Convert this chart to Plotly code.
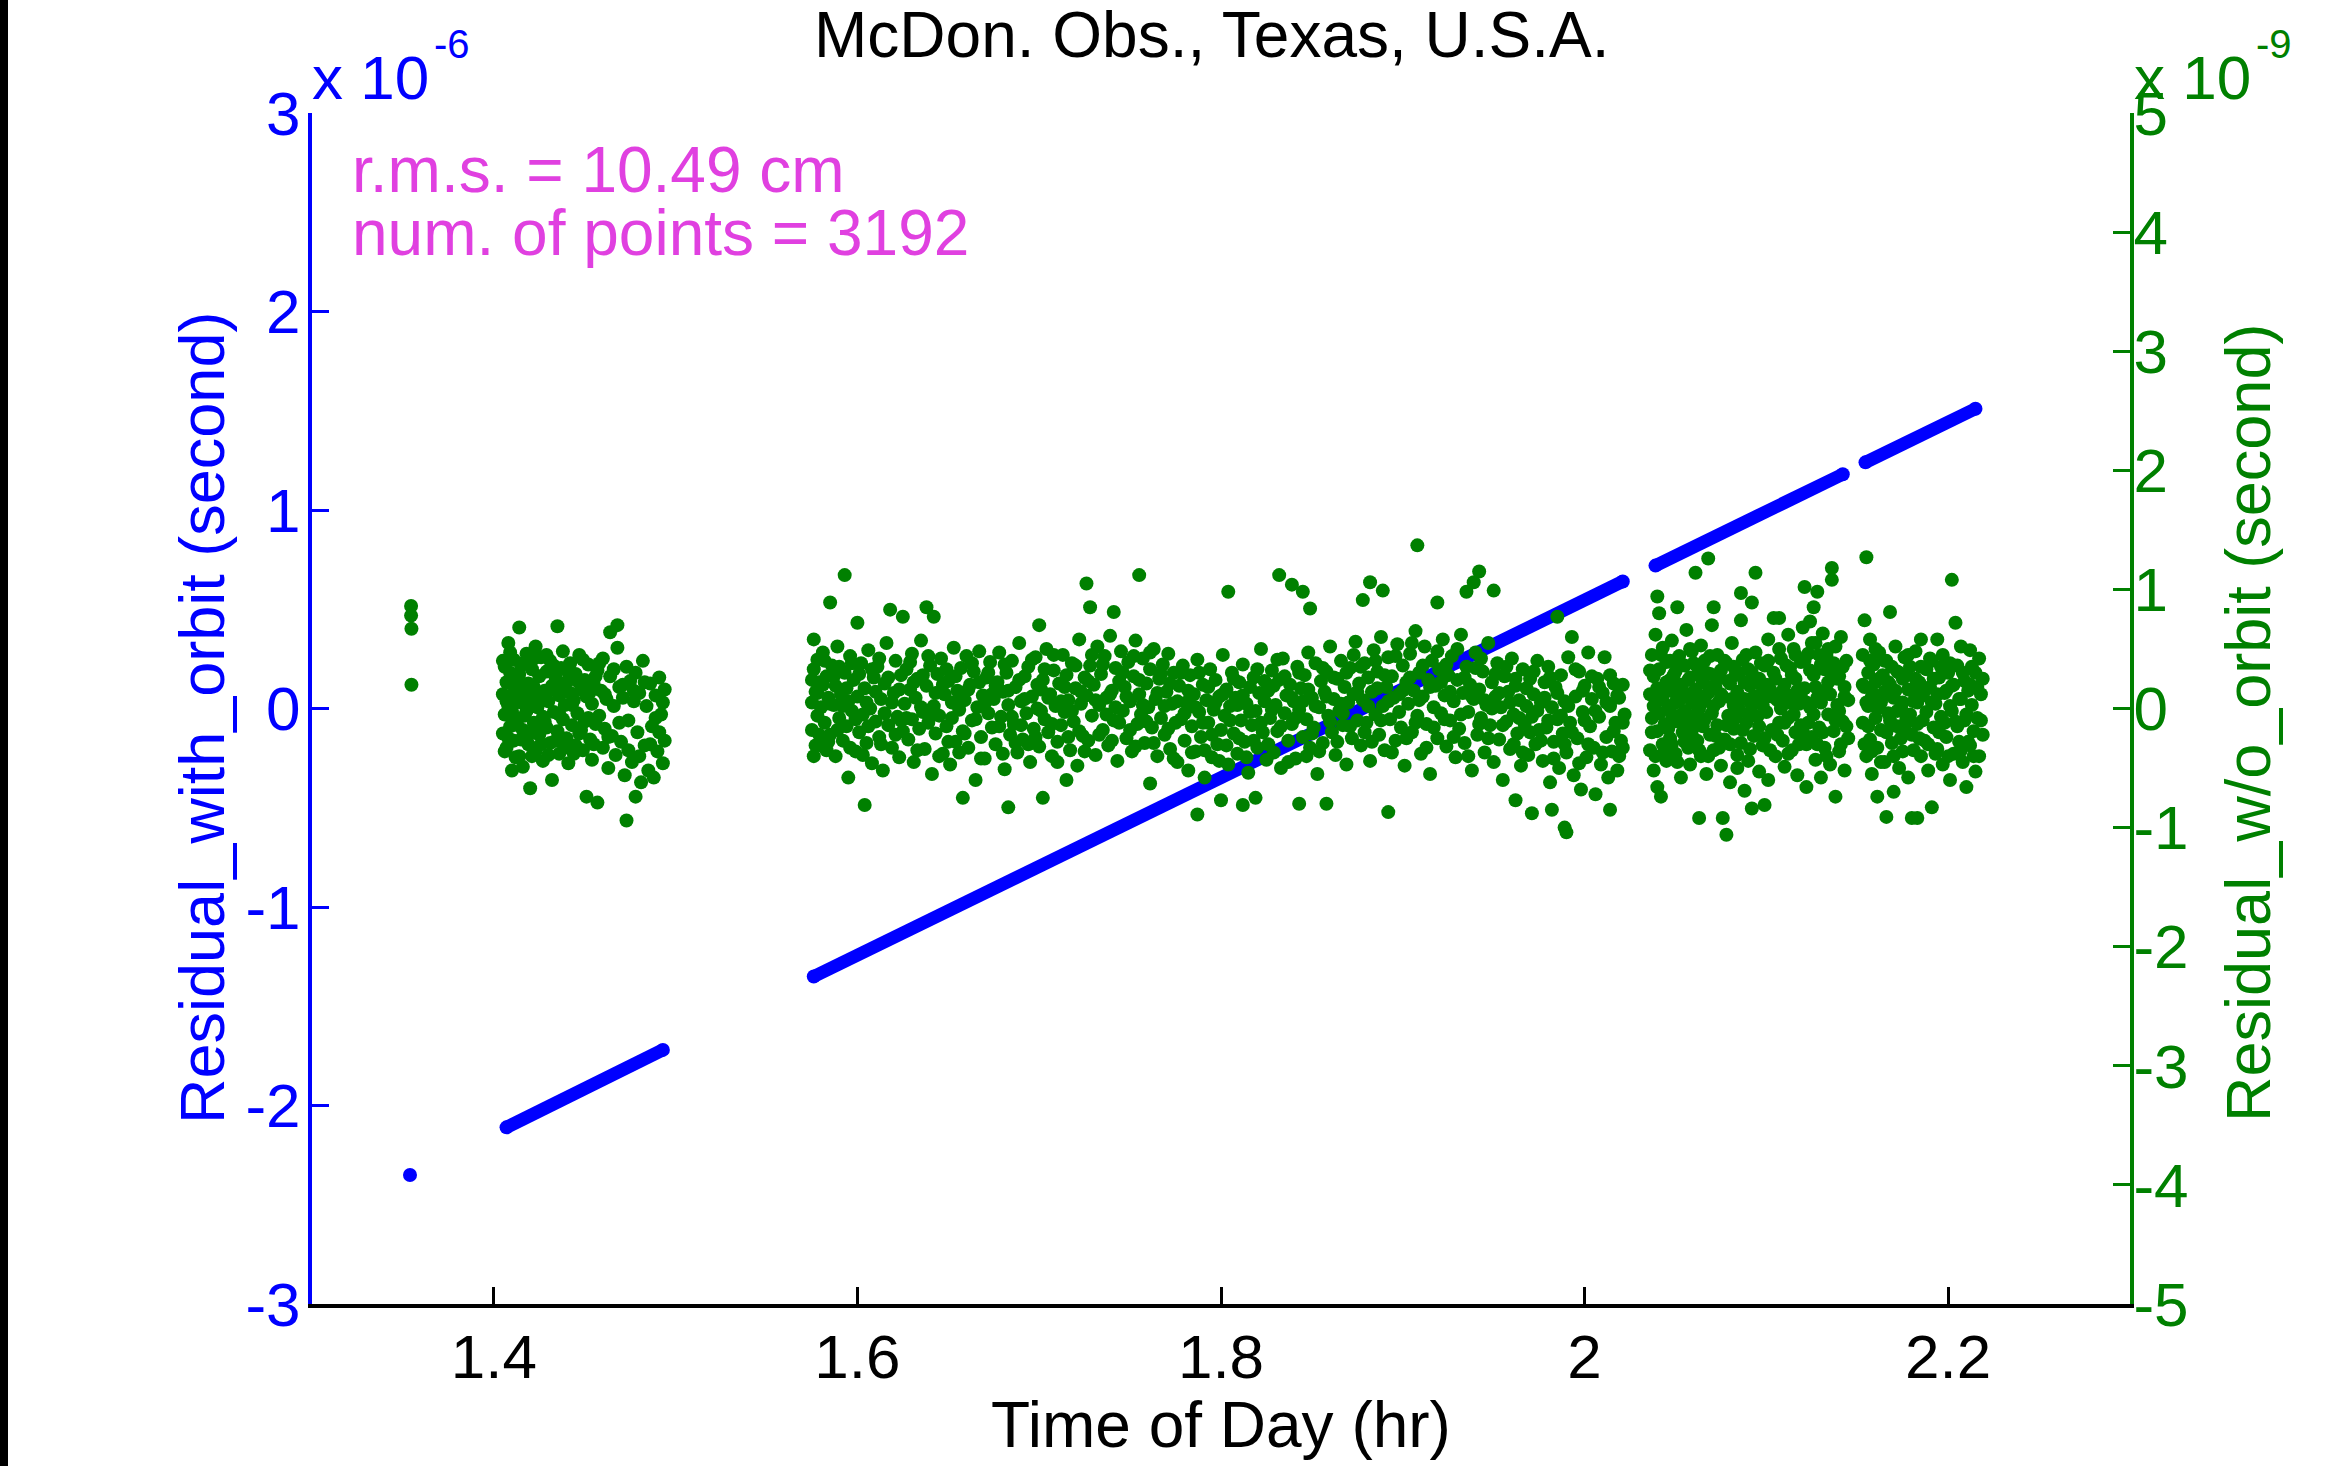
import plotly.graph_objects as go

# ---------------- data ----------------
title_text = "McDon. Obs., Texas, U.S.A."
x_label = "Time of Day (hr)"
y_left_label = "Residual_with_orbit (second)"
y_right_label = "Residual_w/o_orbit (second)"
rms_text = "r.m.s. = 10.49 cm"
npts_text = "num. of points = 3192"

x_tickvals = [1.4, 1.6, 1.8, 2.0, 2.2]
x_ticktext = ["1.4", "1.6", "1.8", "2", "2.2"]
yl_tickvals = [-3, -2, -1, 0, 1, 2, 3]
yl_ticktext = ["-3", "-2", "-1", "0", "1", "2", "3"]
yr_tickvals = [-5, -4, -3, -2, -1, 0, 1, 2, 3, 4, 5]
yr_ticktext = ["-5", "-4", "-3", "-2", "-1", "0", "1", "2", "3", "4", "5"]

# residual with orbit (units of 1e-6 s): start/end of each observing pass
blue_t = [1.3539, None, 1.4070, 1.4930, None, 1.5760, 2.0210, None,
          2.0390, 2.1420, None, 2.1545, 2.2150]
blue_res = [-2.35, None, -2.11, -1.72, None, -1.35, 0.64, None,
            0.72, 1.18, None, 1.24, 1.51]

# residual without orbit (units of 1e-9 s), per pass
green_pass_a = [(1.3545, 0.86), (1.3545, 0.78), (1.3547, 0.67), (1.3547, 0.20)]

green_pass_b = [
(1.405,0.12),(1.405,-0.21),(1.406,0.35),(1.406,-0.05),(1.407,0.22),(1.407,-0.33),(1.408,0.55),(1.408,0.02),
(1.409,-0.15),(1.409,0.30),(1.410,-0.52),(1.410,0.08),(1.411,0.41),(1.411,-0.27),(1.412,0.17),(1.412,-0.08),
(1.413,0.25),(1.414,0.68),(1.414,-0.40),(1.415,0.05),(1.415,0.36),(1.416,-0.49),(1.416,-0.18),(1.417,0.14),
(1.418,0.46),(1.418,-0.02),(1.419,-0.30),(1.419,0.21),(1.420,-0.67),(1.420,0.09),(1.421,0.33),(1.422,-0.12),
(1.422,0.18),(1.423,-0.36),(1.423,0.52),(1.424,0.01),(1.425,-0.22),(1.425,0.27),(1.426,0.43),(1.427,-0.07),
(1.427,-0.44),(1.428,0.15),(1.429,0.31),(1.429,-0.16),(1.430,0.06),(1.431,-0.29),(1.431,0.40),(1.432,-0.60),
(1.432,0.19),(1.433,-0.03),(1.434,0.26),(1.435,0.69),(1.435,-0.19),(1.436,0.11),(1.436,-0.38),(1.437,0.34),
(1.438,-0.09),(1.438,0.48),(1.439,0.03),(1.440,-0.25),(1.440,0.22),(1.441,-0.46),(1.442,0.13),(1.442,0.38),
(1.443,-0.14),(1.444,0.07),(1.445,-0.31),(1.445,0.29),(1.446,-0.04),(1.447,0.45),(1.447,-0.21),(1.448,0.16),
(1.449,-0.35),(1.450,0.24),(1.450,-0.11),(1.451,-0.74),(1.451,0.10),(1.452,0.37),(1.453,-0.26),(1.454,0.04),
(1.454,-0.43),(1.455,0.20),(1.456,-0.13),(1.457,-0.79),(1.457,0.32),(1.458,-0.06),(1.459,0.15),(1.460,-0.33),
(1.460,0.42),(1.461,-0.17),(1.462,0.08),(1.463,-0.50),(1.464,0.64),(1.464,0.27),(1.465,-0.23),(1.466,0.02),
(1.467,-0.39),(1.468,0.70),(1.468,0.51),(1.469,0.18),(1.470,-0.28),(1.471,0.09),(1.472,-0.56),(1.473,-0.94),
(1.473,0.35),(1.474,-0.10),(1.475,0.23),(1.476,-0.45),(1.477,0.06),(1.478,-0.74),(1.478,0.30),(1.479,-0.20),
(1.480,0.13),(1.481,-0.62),(1.482,0.40),(1.483,-0.31),(1.484,0.02),(1.485,-0.52),(1.486,0.21),(1.487,-0.15),
(1.488,-0.58),(1.489,0.11),(1.490,-0.36),(1.491,0.26),(1.492,-0.05),(1.493,-0.46),(1.494,0.16),(1.494,-0.27),
(1.405,0.40),(1.406,-0.36),(1.407,0.06),(1.408,-0.25),(1.409,0.47),(1.410,-0.02),(1.411,0.13),(1.412,-0.41),
(1.413,-0.14),(1.414,0.29),(1.415,-0.26),(1.416,0.38),(1.417,-0.06),(1.418,0.20),(1.419,0.04),(1.420,-0.21),
(1.421,-0.40),(1.422,0.42),(1.424,-0.17),(1.425,0.10),(1.426,-0.30),(1.428,-0.11),(1.429,0.45),(1.430,-0.39),
(1.431,0.16),(1.433,0.36),(1.434,-0.27),(1.436,-0.05),(1.437,0.19),(1.439,-0.33),(1.441,0.30),(1.443,0.03),
(1.444,-0.38),(1.446,0.23),(1.448,-0.18),(1.449,0.41),(1.452,-0.08),(1.453,0.14),(1.455,-0.30),(1.456,0.27),
(1.458,0.38),(1.461,0.12),(1.463,-0.24),(1.466,0.33),(1.469,-0.12),(1.471,0.20),(1.474,-0.35),(1.477,0.15),
(1.480,-0.40),(1.483,0.22),(1.486,-0.30),(1.489,-0.08),(1.491,-0.20),(1.493,0.05)]

green_pass_c = [
(1.575,0.05),(1.575,-0.18),(1.576,0.33),(1.576,0.58),(1.577,-0.31),(1.577,0.14),(1.578,-0.06),(1.578,0.41),
(1.579,0.22),(1.580,-0.31),(1.580,0.01),(1.581,0.47),(1.582,-0.12),(1.583,-0.35),(1.583,0.27),(1.584,0.09),
(1.585,0.89),(1.585,-0.22),(1.586,0.36),(1.587,0.03),(1.588,-0.40),(1.588,0.19),(1.589,0.52),(1.590,-0.08),
(1.591,0.12),(1.592,-0.27),(1.593,1.12),(1.593,0.30),(1.594,-0.15),(1.595,-0.58),(1.595,0.06),(1.596,0.44),
(1.597,-0.02),(1.598,0.24),(1.599,-0.36),(1.600,0.72),(1.600,0.10),(1.601,-0.20),(1.602,0.38),(1.603,-0.05),
(1.604,-0.81),(1.604,0.17),(1.605,-0.29),(1.606,0.49),(1.607,0.00),(1.608,-0.46),(1.609,0.26),(1.610,-0.11),
(1.611,0.35),(1.612,-0.24),(1.613,0.08),(1.614,-0.52),(1.615,0.21),(1.616,0.55),(1.617,-0.14),(1.618,0.83),
(1.619,-0.33),(1.620,0.13),(1.621,0.40),(1.622,-0.07),(1.623,-0.41),(1.624,0.28),(1.625,0.77),(1.625,-0.19),
(1.626,0.04),(1.627,0.33),(1.628,-0.26),(1.629,0.16),(1.630,-0.09),(1.630,0.46),(1.631,-0.45),(1.632,0.09),
(1.633,0.25),(1.634,-0.17),(1.635,0.57),(1.636,-0.03),(1.637,-0.34),(1.638,0.85),(1.638,0.19),(1.639,-0.12),
(1.640,0.36),(1.641,-0.55),(1.642,0.77),(1.642,0.02),(1.643,-0.21),(1.644,0.29),(1.645,-0.06),(1.646,0.42),
(1.647,-0.38),(1.648,0.12),(1.649,-0.15),(1.650,0.23),(1.651,-0.47),(1.652,0.05),(1.653,0.51),(1.654,-0.28),
(1.655,0.15),(1.656,-0.01),(1.657,0.34),(1.658,-0.75),(1.658,-0.19),(1.659,0.07),(1.660,0.44),(1.661,-0.33),
(1.662,0.20),(1.663,-0.10),(1.664,0.31),(1.665,-0.60),(1.666,0.01),(1.667,0.48),(1.668,-0.24),(1.669,0.11),
(1.670,-0.42),(1.671,0.26),(1.672,-0.04),(1.673,0.39),(1.674,-0.16),(1.675,0.08),
(1.676,-0.30),(1.677,0.22),(1.678,0.47),(1.679,-0.07),(1.680,0.14),(1.681,-0.51),(1.682,0.30),(1.683,-0.83),
(1.683,0.03),(1.684,-0.22),(1.685,0.40),(1.686,-0.13),(1.687,0.18),(1.688,-0.37),(1.689,0.55),(1.690,0.06),
(1.691,-0.26),(1.692,0.27),(1.693,-0.04),(1.694,0.35),(1.695,-0.45),(1.696,0.10),(1.697,-0.17),(1.698,0.43),
(1.699,0.00),(1.700,0.70),(1.700,-0.32),(1.701,0.16),(1.702,-0.75),(1.702,0.24),(1.703,-0.09),(1.704,0.50),
(1.705,-0.20),(1.706,0.12),(1.707,-0.40),(1.708,0.32),(1.709,0.02),(1.710,-0.28),(1.711,0.21),(1.712,-0.14),
(1.713,0.45),(1.714,-0.03),(1.715,-0.60),(1.715,0.28),(1.716,0.07),(1.717,-0.35),(1.718,0.38),(1.719,-0.11),
(1.720,0.17),(1.721,-0.48),(1.722,0.58),(1.723,0.04),(1.724,-0.23),(1.725,0.26),
(1.726,1.05),(1.726,0.11),(1.727,-0.27),(1.728,0.85),(1.728,0.36),(1.729,-0.06),(1.730,0.20),(1.731,-0.39),
(1.732,0.52),(1.733,0.03),(1.734,0.29),(1.735,-0.18),(1.736,0.44),(1.737,0.09),(1.738,-0.31),(1.739,0.61),
(1.740,0.15),(1.741,0.81),(1.741,-0.10),(1.742,0.34),(1.743,-0.44),(1.744,0.23),(1.745,0.48),(1.746,-0.02),
(1.747,0.18),(1.748,-0.25),(1.749,0.39),(1.750,0.06),(1.751,-0.36),(1.752,0.27),(1.753,0.57),(1.754,-0.13),
(1.755,1.12),(1.755,0.12),(1.756,-0.05),(1.757,0.42),(1.758,-0.29),(1.759,0.21),(1.760,0.01),(1.761,-0.63),
(1.761,0.33),(1.762,-0.16),(1.763,0.50),(1.764,0.08),(1.765,-0.40),(1.766,0.25),(1.767,-0.08),(1.768,0.37),
(1.769,-0.22),(1.770,0.14),(1.771,0.46),(1.772,-0.34),(1.773,0.04),(1.774,0.30),(1.775,-0.12),
(1.776,-0.45),(1.777,0.19),(1.778,-0.09),(1.779,0.36),(1.780,-0.27),(1.781,0.05),(1.782,-0.52),(1.783,0.28),
(1.784,-0.15),(1.785,0.12),(1.786,-0.36),(1.787,-0.89),(1.787,0.41),(1.788,-0.03),(1.789,-0.24),(1.790,0.20),
(1.791,-0.58),(1.792,0.07),(1.793,-0.12),(1.794,0.33),(1.795,-0.41),(1.796,-0.01),(1.797,0.24),(1.798,-0.30),
(1.799,0.10),(1.800,-0.77),(1.800,-0.18),(1.801,0.45),(1.802,-0.06),(1.803,0.16),(1.804,0.98),(1.804,-0.47),
(1.805,0.02),(1.806,0.30),(1.807,-0.21),(1.808,0.09),(1.809,-0.38),(1.810,0.22),(1.811,-0.10),(1.812,-0.81),
(1.812,0.37),(1.813,-0.28),(1.814,0.04),(1.815,-0.54),(1.816,0.18),(1.817,-0.14),(1.818,0.26),(1.819,-0.75),
(1.819,-0.02),(1.820,-0.33),(1.821,0.13),(1.822,0.50),(1.823,-0.20),(1.824,0.06),(1.825,-0.43),
(1.826,0.15),(1.827,-0.08),(1.828,0.32),(1.829,-0.37),(1.830,0.03),(1.831,-0.19),(1.832,1.12),(1.832,0.24),
(1.833,-0.50),(1.834,0.42),(1.835,-0.04),(1.836,0.11),(1.837,-0.27),(1.838,0.20),(1.839,1.04),(1.839,-0.13),
(1.840,0.06),(1.841,-0.42),(1.842,0.35),(1.843,-0.80),(1.843,-0.01),(1.844,0.17),(1.845,0.98),(1.845,-0.24),
(1.846,0.28),(1.847,-0.09),(1.848,0.47),(1.849,0.84),(1.849,-0.33),(1.850,0.09),(1.851,-0.16),(1.852,0.38),
(1.853,-0.55),(1.854,0.01),(1.855,0.23),(1.856,-0.29),(1.857,0.14),(1.858,-0.80),(1.858,0.31),(1.859,-0.06),
(1.860,0.52),(1.861,-0.20),(1.862,0.08),(1.863,-0.39),(1.864,0.25),(1.865,-0.02),(1.866,0.40),(1.867,-0.14),
(1.868,0.18),(1.869,-0.47),(1.870,0.05),(1.871,0.34),(1.872,-0.25),(1.873,0.12),(1.874,0.56),(1.875,-0.10),
(1.876,0.21),(1.877,-0.31),(1.878,0.91),(1.878,0.07),(1.879,0.38),(1.880,-0.12),(1.881,0.26),(1.882,1.06),
(1.882,-0.44),(1.883,0.14),(1.884,0.49),(1.885,-0.05),(1.886,0.31),(1.887,-0.22),(1.888,0.60),(1.889,0.99),
(1.889,0.02),(1.890,-0.35),(1.891,0.18),(1.892,-0.87),(1.892,0.43),(1.893,-0.09),(1.894,0.27),(1.895,0.09),
(1.896,-0.27),(1.897,0.54),(1.898,0.12),(1.899,-0.16),(1.900,0.36),(1.901,-0.48),(1.902,0.22),(1.903,0.04),
(1.904,0.46),(1.905,-0.20),(1.906,0.15),(1.907,0.65),(1.908,1.37),(1.908,-0.06),(1.909,0.30),(1.910,-0.38),
(1.911,0.10),(1.912,0.52),(1.913,-0.13),(1.914,0.24),(1.915,-0.55),(1.916,0.40),(1.917,0.01),(1.918,0.19),
(1.919,0.89),(1.919,-0.25),(1.920,0.33),(1.921,-0.04),(1.922,0.58),(1.923,0.11),(1.924,-0.32),(1.925,0.28),
(1.926,-0.10),(1.927,0.44),(1.928,0.06),(1.929,-0.41),(1.930,0.24),(1.931,-0.17),(1.932,0.62),(1.933,0.13),
(1.934,-0.29),(1.935,0.98),(1.935,0.35),(1.936,-0.03),(1.937,0.20),(1.938,-0.52),(1.939,1.06),(1.939,0.08),
(1.940,0.47),(1.941,-0.22),(1.942,1.15),(1.942,0.16),(1.943,-0.08),(1.944,0.31),(1.945,-0.37),(1.946,0.03),
(1.947,0.55),(1.948,-0.14),(1.949,0.22),(1.950,0.99),(1.950,-0.45),(1.951,0.10),(1.952,0.38),(1.953,-0.26),
(1.954,0.01),(1.955,-0.60),(1.956,0.27),(1.957,-0.11),(1.958,0.14),(1.959,-0.34),(1.960,0.42),(1.961,-0.05),
(1.962,-0.77),(1.962,0.19),(1.963,-0.21),(1.964,0.07),(1.965,-0.48),(1.966,0.33),(1.967,-0.13),(1.968,0.02),
(1.969,-0.39),(1.970,0.25),(1.971,-0.88),(1.971,-0.07),(1.972,0.12),(1.973,-0.30),(1.974,0.40),(1.975,-0.18),
(1.976,0.05),(1.977,-0.44),(1.978,0.22),(1.979,-0.16),(1.980,0.35),(1.981,-0.62),(1.982,-0.85),(1.982,0.01),
(1.983,-0.28),(1.984,0.18),(1.985,0.77),(1.985,-0.09),(1.986,-0.50),(1.987,0.28),(1.988,-0.21),(1.989,-1.00),
(1.989,0.06),(1.990,-1.04),(1.990,-0.37),(1.991,0.43),(1.992,-0.12),(1.993,0.60),(1.994,-0.56),(1.995,0.10),
(1.996,-0.25),(1.997,0.31),(1.998,-0.68),(1.999,-0.03),(2.000,0.19),(2.001,-0.41),(2.002,0.47),(2.003,-0.15),
(2.004,0.08),(2.005,-0.33),(2.006,-0.72),(2.007,0.25),(2.008,-0.07),(2.009,-0.47),(2.010,0.13),(2.011,0.43),
(2.012,-0.24),(2.013,-0.58),(2.014,-0.85),(2.014,0.02),(2.015,-0.36),(2.016,0.21),(2.017,-0.12),(2.018,-0.52),
(2.019,0.09),(2.020,-0.27),(2.021,0.20),(2.021,-0.33),(2.022,-0.05),
(1.575,0.24),(1.576,-0.40),(1.578,0.13),(1.579,-0.22),(1.581,0.20),(1.582,0.40),(1.584,-0.28),(1.585,0.04),
(1.587,0.27),(1.589,-0.18),(1.590,0.35),(1.592,0.02),(1.594,0.17),(1.596,-0.33),(1.597,0.38),(1.599,-0.09),
(1.601,0.29),(1.603,-0.39),(1.605,0.05),(1.606,-0.15),(1.608,0.33),(1.610,0.14),(1.612,0.42),(1.613,-0.30),
(1.615,-0.04),(1.617,0.26),(1.619,0.05),(1.621,-0.22),(1.623,0.16),(1.624,-0.10),(1.627,-0.08),(1.629,0.39),
(1.631,0.22),(1.633,-0.35),(1.635,0.01),(1.636,0.28),(1.639,0.44),(1.641,-0.06),(1.643,0.13),(1.645,-0.40),
(1.647,0.20),(1.649,0.33),(1.650,-0.28),(1.652,-0.08),(1.654,0.27),(1.656,-0.37),(1.657,0.06),(1.659,-0.21),
(1.661,0.16),(1.663,0.38),(1.665,-0.09),(1.667,0.22),(1.668,-0.42),(1.670,0.04),(1.672,0.30),(1.674,0.12),
(1.676,0.19),(1.678,-0.15),(1.680,-0.38),(1.681,0.37),(1.683,0.15),(1.685,-0.07),(1.687,-0.29),(1.689,0.24),
(1.690,-0.14),(1.692,0.08),(1.694,-0.30),(1.696,0.41),(1.698,-0.24),(1.699,0.20),(1.701,-0.02),(1.703,0.33),
(1.705,0.09),(1.707,-0.13),(1.708,0.45),(1.710,-0.45),(1.712,0.06),(1.714,0.18),(1.716,-0.24),(1.718,-0.02),
(1.720,0.36),(1.722,-0.19),(1.723,0.14),(1.725,-0.36),(1.727,0.23),(1.729,0.45),(1.731,0.07),(1.733,-0.22),
(1.735,0.37),(1.737,-0.05),(1.739,0.12),(1.740,-0.27),(1.742,0.01),(1.744,-0.12),(1.746,0.30),(1.748,0.10),
(1.750,-0.18),(1.752,0.44),(1.753,-0.32),(1.755,0.24),(1.757,0.03),(1.759,-0.11),(1.761,0.47),(1.763,-0.29),
(1.765,0.13),(1.767,0.29),(1.769,0.02),(1.771,-0.17),(1.772,0.21),(1.774,-0.42),(1.776,0.06),(1.778,0.30),
(1.780,-0.04),(1.782,0.15),(1.784,-0.37),(1.786,0.01),(1.788,0.30),(1.790,-0.12),(1.791,-0.35),(1.793,0.18),
(1.795,-0.22),(1.797,0.05),(1.799,-0.44),(1.801,0.12),(1.803,-0.31),(1.805,-0.10),(1.807,0.25),(1.809,0.03),
(1.810,-0.25),(1.812,0.11),(1.814,-0.41),(1.816,-0.03),(1.818,-0.27),(1.820,0.33),(1.822,-0.12),(1.824,0.23),
(1.826,-0.30),(1.828,-0.01),(1.829,0.19),(1.831,0.41),(1.833,-0.15),(1.835,0.27),(1.837,-0.45),(1.839,0.09),
(1.841,-0.08),(1.843,0.30),(1.845,0.06),(1.847,-0.40),(1.848,0.16),(1.850,-0.21),(1.852,0.02),(1.854,-0.36),
(1.856,0.34),(1.858,0.10),(1.860,-0.11),(1.862,0.26),(1.864,-0.28),(1.866,0.04),(1.867,-0.04),(1.869,0.30),
(1.871,-0.15),(1.873,0.45),(1.875,0.14),(1.877,0.35),(1.879,-0.20),(1.881,0.02),(1.883,-0.28),(1.885,0.40),
(1.886,0.17),(1.888,-0.10),(1.890,0.28),(1.892,0.06),(1.894,-0.37),(1.896,0.44),(1.898,-0.03),(1.900,0.15),
(1.902,-0.25),(1.904,0.26),(1.905,0.55),(1.907,-0.12),(1.909,0.07),(1.911,0.36),(1.913,-0.33),(1.915,0.18),
(1.917,-0.16),(1.919,0.48),(1.921,0.22),(1.923,-0.09),(1.924,0.37),(1.926,0.14),(1.928,-0.24),(1.930,0.50),
(1.932,-0.05),(1.934,0.26),(1.936,-0.40),(1.938,0.10),(1.940,0.34),(1.942,-0.13),(1.943,0.42),(1.945,0.07),
(1.947,-0.25),(1.949,0.00),(1.951,0.29),(1.953,0.13),(1.955,-0.14),(1.957,0.35),(1.959,0.05),(1.961,-0.30),
(1.962,0.25),(1.964,-0.08),(1.966,-0.37),(1.968,0.17),(1.970,-0.20),(1.972,0.31),(1.974,-0.02),(1.976,-0.27),
(1.978,0.09),(1.980,-0.10),(1.981,0.26),(1.983,-0.42),(1.985,0.13),(1.987,-0.06),(1.989,-0.30),(1.991,0.02),
(1.993,-0.20),(1.995,0.33),(1.997,-0.46),(1.999,0.15),(2.000,-0.10),(2.002,-0.30),(2.004,0.27),(2.006,-0.02),
(2.008,0.18),(2.010,-0.37),(2.012,0.05),(2.014,0.28),(2.016,-0.19),(2.018,0.11),(2.019,-0.40),(2.021,-0.12)]

green_pass_d = [
(2.036,0.12),(2.036,-0.35),(2.037,0.45),(2.037,-0.08),(2.038,0.27),(2.038,-0.52),(2.039,0.04),(2.039,0.62),
(2.040,0.94),(2.040,-0.66),(2.040,-0.19),(2.041,0.33),(2.041,0.80),(2.042,-0.74),(2.042,0.09),(2.043,-0.30),
(2.043,0.51),(2.044,0.18),(2.044,-0.13),(2.045,0.39),(2.045,-0.44),(2.046,0.02),(2.047,0.24),(2.047,-0.25),
(2.048,0.57),(2.048,-0.05),(2.049,0.14),(2.050,-0.38),(2.050,0.31),(2.051,0.85),(2.051,-0.11),(2.052,0.07),
(2.052,0.44),(2.053,-0.58),(2.053,0.20),(2.054,-0.20),(2.055,0.36),(2.055,-0.02),(2.056,0.66),(2.056,0.11),
(2.057,-0.33),(2.058,0.26),(2.058,-0.47),(2.059,0.05),(2.059,0.48),(2.060,-0.15),(2.061,1.14),(2.061,0.16),
(2.062,-0.27),(2.062,0.35),(2.063,-0.92),(2.063,0.00),(2.064,0.53),(2.064,-0.40),(2.065,0.22),(2.066,-0.09),
(2.066,0.40),(2.067,-0.55),(2.068,1.26),(2.068,0.13),(2.069,-0.22),(2.069,0.29),(2.070,0.70),(2.070,-0.04),
(2.071,0.85),(2.071,-0.35),(2.072,0.18),(2.073,0.45),(2.073,-0.14),(2.074,0.06),(2.075,-0.48),(2.075,0.32),
(2.076,-0.92),(2.076,0.10),(2.077,-0.26),(2.078,-1.06),(2.078,0.38),(2.079,-0.06),(2.080,0.21),(2.080,-0.62),
(2.081,0.55),(2.082,-0.17),(2.082,0.03),(2.083,0.28),(2.084,-0.39),(2.084,0.14),(2.085,-0.01),(2.086,0.97),
(2.086,0.74),(2.086,-0.29),(2.087,0.41),(2.088,-0.69),(2.088,0.08),(2.089,-0.12),(2.090,0.33),(2.090,-0.44),
(2.091,0.19),(2.092,0.89),(2.092,-0.84),(2.092,0.02),(2.093,-0.23),(2.094,1.14),(2.094,0.47),(2.095,-0.07),
(2.096,0.25),(2.096,-0.53),(2.097,0.12),(2.098,-0.31),(2.099,-0.81),(2.099,0.36),(2.100,-0.03),(2.101,0.58),
(2.101,-0.60),(2.102,0.16),(2.103,-0.18),(2.104,0.76),(2.104,0.30),(2.105,-0.40),(2.106,0.07),(2.107,0.76),
(2.107,-0.12),(2.108,0.42),(2.109,-0.27),(2.110,0.20),(2.110,-0.49),(2.111,0.05),(2.112,0.62),(2.112,-0.08),
(2.113,0.34),(2.114,-0.35),(2.114,0.11),(2.115,0.50),(2.116,-0.20),(2.116,0.25),(2.117,-0.56),(2.118,0.04),
(2.119,0.39),(2.119,-0.14),(2.120,0.68),(2.121,1.02),(2.121,0.17),(2.122,-0.66),(2.122,-0.30),(2.123,0.46),
(2.124,0.01),(2.124,0.73),(2.125,-0.24),(2.126,0.85),(2.126,0.28),(2.127,-0.43),(2.127,0.55),(2.128,0.98),
(2.128,0.09),(2.129,-0.16),(2.130,0.37),(2.130,-0.58),(2.131,0.63),(2.132,0.14),(2.132,-0.33),(2.133,0.44),
(2.134,-0.05),(2.134,0.22),(2.135,-0.47),(2.136,1.18),(2.136,1.08),(2.136,0.31),(2.137,-0.19),(2.138,-0.74),
(2.138,0.52),(2.139,0.03),(2.140,-0.36),(2.140,0.27),(2.141,0.60),(2.142,-0.11),(2.143,0.18),(2.143,-0.52),
(2.144,0.40),(2.145,-0.25),(2.145,0.07),
(2.036,0.32),(2.037,-0.20),(2.038,0.02),(2.039,-0.40),(2.040,0.17),(2.041,-0.04),(2.042,0.45),(2.043,0.10),
(2.044,-0.36),(2.045,0.22),(2.046,-0.17),(2.047,0.40),(2.048,-0.30),(2.049,0.28),(2.050,0.05),(2.051,-0.45),
(2.052,-0.06),(2.053,0.36),(2.054,0.15),(2.055,-0.28),(2.056,-0.10),(2.057,0.24),(2.058,0.50),(2.059,-0.22),
(2.060,0.38),(2.061,-0.05),(2.062,0.10),(2.063,-0.35),(2.064,0.27),(2.065,-0.15),(2.066,0.06),(2.067,0.30),
(2.068,-0.40),(2.069,0.44),(2.070,0.18),(2.071,0.02),(2.072,-0.23),(2.073,0.25),(2.074,-0.33),(2.075,0.12),
(2.077,0.40),(2.078,-0.14),(2.079,0.23),(2.080,-0.30),(2.081,0.08),(2.082,0.35),(2.083,-0.08),(2.084,-0.50),
(2.085,0.30),(2.087,-0.18),(2.088,0.22),(2.089,0.45),(2.090,-0.05),(2.091,-0.34),(2.092,0.30),(2.093,0.10),
(2.095,0.22),(2.096,-0.15),(2.097,0.38),(2.098,0.03),(2.099,-0.25),(2.100,0.20),(2.101,0.40),(2.102,-0.35),
(2.103,0.10),(2.105,0.25),(2.106,-0.22),(2.107,0.50),(2.108,0.00),(2.109,0.15),(2.110,-0.12),(2.111,0.36),
(2.112,-0.38),(2.113,0.05),(2.114,0.28),(2.115,-0.05),(2.116,0.45),(2.117,0.15),(2.118,-0.30),(2.119,0.10),
(2.120,-0.20),(2.121,0.40),(2.122,0.05),(2.123,-0.12),(2.124,0.32),(2.125,0.55),(2.126,-0.05),(2.127,0.18),
(2.128,-0.30),(2.129,0.45),(2.130,0.05),(2.131,-0.20),(2.132,0.33),(2.133,-0.40),(2.134,0.50),(2.135,0.12),
(2.137,0.38),(2.138,-0.10),(2.139,0.25),(2.140,-0.02),(2.141,-0.30),(2.142,0.35),(2.143,0.10),(2.144,-0.15)]

green_pass_e = [
(2.153,0.45),(2.153,-0.12),(2.154,0.74),(2.154,0.18),(2.155,1.27),(2.155,-0.40),(2.156,0.30),(2.156,0.02),
(2.157,-0.26),(2.157,0.58),(2.158,-0.55),(2.158,0.10),(2.159,0.37),(2.160,-0.08),(2.160,0.22),(2.161,-0.74),
(2.161,-0.33),(2.162,0.47),(2.163,0.05),(2.163,-0.18),(2.164,0.28),(2.165,-0.45),(2.165,0.14),(2.166,-0.91),
(2.166,0.40),(2.167,-0.04),(2.168,0.81),(2.168,0.20),(2.169,-0.29),(2.170,-0.70),(2.170,0.09),(2.171,0.52),
(2.172,-0.15),(2.172,0.31),(2.173,-0.50),(2.174,0.01),(2.175,0.25),(2.175,-0.36),(2.176,0.43),(2.177,-0.09),
(2.178,0.16),(2.178,-0.58),(2.179,0.35),(2.180,-0.92),(2.180,-0.22),(2.181,0.06),(2.182,0.48),(2.183,-0.92),
(2.183,-0.13),(2.184,0.22),(2.185,0.58),(2.185,-0.40),(2.186,0.11),(2.187,-0.27),(2.188,0.33),(2.188,-0.03),
(2.189,-0.52),(2.190,0.18),(2.191,-0.83),(2.191,0.40),(2.192,-0.16),(2.193,0.04),(2.194,0.58),(2.194,-0.34),
(2.195,0.26),(2.196,-0.07),(2.197,0.45),(2.197,-0.47),(2.198,0.13),(2.199,-0.24),(2.200,0.30),(2.201,-0.60),
(2.201,0.02),(2.202,1.08),(2.202,0.19),(2.203,-0.38),(2.204,0.72),(2.204,-0.11),(2.205,0.36),(2.206,-0.28),
(2.207,0.08),(2.207,0.52),(2.208,-0.45),(2.209,0.23),(2.210,-0.05),(2.210,-0.66),(2.211,0.15),(2.212,0.49),
(2.212,-0.31),(2.213,0.03),(2.214,-0.19),(2.215,-0.53),(2.215,0.30),(2.216,-0.08),(2.217,0.42),(2.217,-0.40),
(2.218,0.12),(2.219,-0.22),(2.219,0.25),
(2.153,0.20),(2.154,-0.30),(2.155,0.05),(2.156,-0.15),(2.157,0.40),(2.158,-0.36),(2.159,0.12),(2.160,0.50),
(2.161,0.00),(2.162,0.25),(2.163,-0.45),(2.164,0.10),(2.165,0.40),(2.166,-0.20),(2.167,0.22),(2.168,-0.10),
(2.169,0.35),(2.170,-0.40),(2.171,0.15),(2.172,-0.02),(2.173,0.30),(2.174,-0.25),(2.175,0.05),(2.176,-0.15),
(2.177,0.28),(2.178,0.45),(2.179,-0.05),(2.180,0.15),(2.181,-0.35),(2.182,0.25),(2.183,0.05),(2.184,-0.25),
(2.185,0.35),(2.186,-0.10),(2.187,0.15),(2.189,-0.30),(2.190,0.42),(2.191,0.05),(2.192,0.25),(2.193,-0.38),
(2.194,0.12),(2.195,-0.20),(2.196,0.35),(2.198,-0.12),(2.199,0.15),(2.200,-0.40),(2.201,0.38),(2.202,-0.02),
(2.203,0.20),(2.205,-0.15),(2.206,0.08),(2.207,-0.35),(2.208,0.30),(2.209,-0.10),(2.211,-0.28),(2.212,0.20),
(2.213,0.35),(2.214,-0.40),(2.216,0.18),(2.218,-0.10)]

# ---------------- figure ----------------
W, H = 2350, 1466
ML, MR, MT, MB = 312, 220, 113, 162
PW, PH = W - ML - MR, H - MT - MB
FONT = "Liberation Sans, Arial, Helvetica, sans-serif"
BLUE = "#0000ff"
GREEN = "#008000"
MAGENTA = "#e040e0"


def px(x):
    return (x - ML) / PW


def py(y):
    return (H - MB - y) / PH


green_all = green_pass_a + green_pass_b + green_pass_c + green_pass_d + green_pass_e
gx = [p[0] for p in green_all]
gy = [p[1] for p in green_all]

fig = go.Figure()
fig.add_trace(go.Scatter(
    x=blue_t, y=blue_res, mode="lines+markers", yaxis="y",
    line=dict(color=BLUE, width=13), marker=dict(color=BLUE, size=14),
    connectgaps=False, showlegend=False, hoverinfo="skip"))
fig.add_trace(go.Scatter(
    x=gx, y=gy, mode="markers", yaxis="y2",
    marker=dict(color=GREEN, size=14, line=dict(width=0)),
    showlegend=False, hoverinfo="skip"))

tick_font = dict(family=FONT, size=62)

fig.update_layout(
    width=W, height=H,
    margin=dict(l=ML, r=MR, t=MT, b=MB, autoexpand=False),
    paper_bgcolor="white", plot_bgcolor="white",
    font=dict(family=FONT),
    xaxis=dict(range=[1.3, 2.3], tickvals=x_tickvals, ticktext=x_ticktext,
               ticks="inside", ticklen=17, tickwidth=3, tickcolor="black",
               showline=True, linecolor="black", linewidth=4,
               showgrid=False, zeroline=False,
               tickfont=dict(tick_font, color="black"), ticklabelstandoff=-4),
    yaxis=dict(range=[-3, 3], tickvals=yl_tickvals, ticktext=yl_ticktext,
               ticks="inside", ticklen=17, tickwidth=3, tickcolor=BLUE,
               showline=True, linecolor=BLUE, linewidth=4,
               showgrid=False, zeroline=False,
               tickfont=dict(tick_font, color=BLUE), ticklabelstandoff=-5),
    yaxis2=dict(range=[-5, 5], tickvals=yr_tickvals, ticktext=yr_ticktext,
                overlaying="y", side="right",
                ticks="inside", ticklen=17, tickwidth=3, tickcolor=GREEN,
                showline=True, linecolor=GREEN, linewidth=4,
                showgrid=False, zeroline=False,
                tickfont=dict(tick_font, color=GREEN), ticklabelstandoff=-13),
)

ann = []
ann.append(dict(text=title_text, x=px(1212), y=py(35), xanchor="center", yanchor="middle",
                font=dict(family=FONT, size=64, color="black")))
ann.append(dict(text=x_label, x=px(1221), y=py(1425), xanchor="center", yanchor="middle",
                font=dict(family=FONT, size=64, color="black")))
ann.append(dict(text=y_left_label, x=px(202), y=py(718), xanchor="center", yanchor="middle",
                textangle=-90, font=dict(family=FONT, size=63, color=BLUE)))
ann.append(dict(text=y_right_label, x=px(2248), y=py(723), xanchor="center", yanchor="middle",
                textangle=-90, font=dict(family=FONT, size=63, color=GREEN)))
ann.append(dict(text=rms_text, x=px(350), y=py(170), xanchor="left", yanchor="middle",
                font=dict(family=FONT, size=64, color=MAGENTA)))
ann.append(dict(text=npts_text, x=px(350), y=py(233), xanchor="left", yanchor="middle",
                font=dict(family=FONT, size=64, color=MAGENTA)))
ann.append(dict(text="x 10", x=px(310), y=py(78), xanchor="left", yanchor="middle",
                font=dict(family=FONT, size=62, color=BLUE)))
ann.append(dict(text="-6", x=px(432), y=py(44), xanchor="left", yanchor="middle",
                font=dict(family=FONT, size=40, color=BLUE)))
ann.append(dict(text="x 10", x=px(2132), y=py(78), xanchor="left", yanchor="middle",
                font=dict(family=FONT, size=62, color=GREEN)))
ann.append(dict(text="-9", x=px(2254), y=py(44), xanchor="left", yanchor="middle",
                font=dict(family=FONT, size=40, color=GREEN)))
for a in ann:
    a.update(xref="paper", yref="paper", showarrow=False)
fig.update_layout(annotations=ann)

# black strip along the left edge of the original picture
fig.add_shape(type="rect", xref="paper", yref="paper",
              x0=px(0), x1=px(8), y0=py(H), y1=py(0),
              fillcolor="black", line=dict(width=0), layer="above")

fig.write_html("out.html")
